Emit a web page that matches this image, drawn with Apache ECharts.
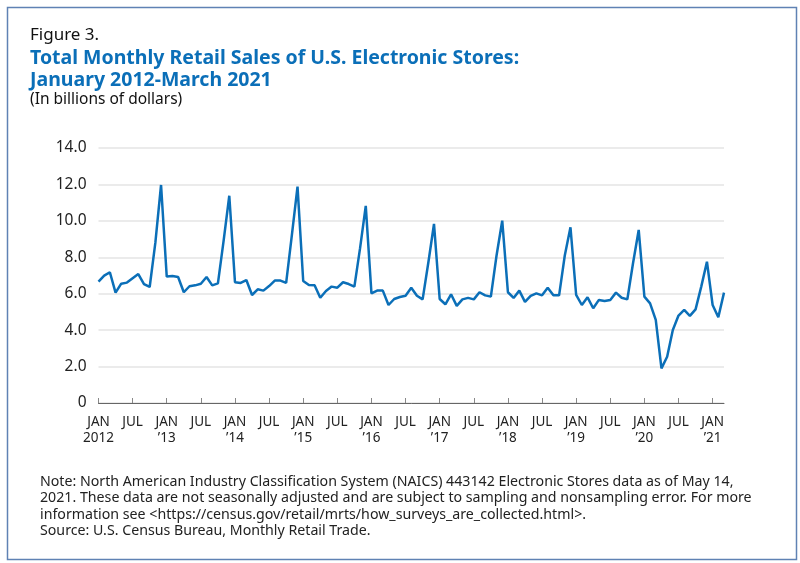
<!DOCTYPE html>
<html>
<head>
<meta charset="utf-8">
<title>Figure 3</title>
<script src="https://cdn.jsdelivr.net/npm/echarts@6/dist/echarts.min.js"></script>
<style>
  html, body { margin: 0; padding: 0; background: #fff; }
  #main { width: 800px; height: 563px; }
</style>
</head>
<body>
<div id="main"></div>
<script>
// monthly sales, billions of dollars
var monthNames = ['JAN','FEB','MAR','APR','MAY','JUN','JUL','AUG','SEP','OCT','NOV','DEC'];
var years = [2012, 2013, 2014, 2015, 2016, 2017, 2018, 2019, 2020, 2021];
var sales2012 = [6.66, 6.99, 7.18, 6.06, 6.55, 6.61, 6.85, 7.08, 6.53, 6.37, 8.8, 11.97];
var sales2013 = [6.94, 6.97, 6.92, 6.08, 6.41, 6.46, 6.55, 6.92, 6.46, 6.57, 8.9, 11.38];
var sales2014 = [6.63, 6.59, 6.75, 5.93, 6.24, 6.17, 6.42, 6.72, 6.72, 6.59, 9.2, 11.88];
var sales2015 = [6.70, 6.48, 6.46, 5.78, 6.15, 6.39, 6.33, 6.63, 6.53, 6.39, 8.5, 10.82];
var sales2016 = [6.02, 6.17, 6.17, 5.38, 5.71, 5.82, 5.89, 6.33, 5.89, 5.69, 7.7, 9.83];
var sales2017 = [5.71, 5.42, 5.97, 5.33, 5.69, 5.77, 5.69, 6.08, 5.91, 5.84, 8.1, 10.01];
var sales2018 = [6.08, 5.77, 6.17, 5.55, 5.88, 6.02, 5.91, 6.33, 5.91, 5.91, 8.1, 9.65];
var sales2019 = [5.93, 5.38, 5.80, 5.20, 5.66, 5.60, 5.66, 6.06, 5.78, 5.69, 7.67, 9.50];
var sales2020 = [5.84, 5.47, 4.56, 1.90, 2.54, 4.01, 4.80, 5.11, 4.78, 5.14, 6.39, 7.76];
var sales2021 = [5.38, 4.71, 6.06];

var salesByYear = [sales2012, sales2013, sales2014, sales2015, sales2016,
                   sales2017, sales2018, sales2019, sales2020, sales2021];

var categories = [];
var values = [];
for (var y = 0; y < years.length; y++) {
  for (var m = 0; m < salesByYear[y].length; m++) {
    categories.push(monthNames[m] + ' ' + years[y]);
    values.push(salesByYear[y][m]);
  }
}

var blue = '#0b6fb8';
var txtFont = 'Noto Sans';

var myChart = echarts.init(document.getElementById('main'));
myChart.setOption({
  animation: false,
  textStyle: { fontFamily: txtFont },
  grid: { left: 98.5, right: 76, top: 148, bottom: 160 },
  xAxis: {
    type: 'category',
    data: categories,
    boundaryGap: false,
    axisLine: { lineStyle: { color: '#666', width: 1 } },
    axisTick: {
      inside: true, length: 5,
      interval: function (i) { return i % 6 === 0; },
      lineStyle: { color: '#888' }
    },
    axisLabel: {
      interval: function (i) { return i % 6 === 0; },
      color: '#222', fontSize: 13.5, lineHeight: 16, margin: 11,
      formatter: function (v) {
        var p = v.split(' ');
        if (p[0] !== 'JAN') return p[0];
        var yr = p[1] === '2012' ? '2012' : '\u2019' + p[1].slice(2);
        return 'JAN\n' + yr;
      }
    }
  },
  yAxis: {
    type: 'value',
    min: 0, max: 14, interval: 2,
    axisLine: { show: false },
    axisTick: { show: false },
    axisLabel: {
      color: '#222', fontSize: 15.5, margin: 12,
      formatter: function (v) { return v === 0 ? '0' : v.toFixed(1); }
    },
    splitLine: { lineStyle: { color: '#e4e4e4', width: 1.5 } }
  },
  series: [{
    type: 'line',
    data: values,
    symbol: 'none',
    lineStyle: { color: blue, width: 2.5 },
    z: 3
  }],
  graphic: [
    {
      type: 'rect', left: 5, top: 5,
      shape: { width: 789, height: 552 },
      style: { fill: 'none', stroke: '#5f82b4', lineWidth: 1.5 }
    },
    {
      type: 'text', left: 30, top: 27,
      style: { text: 'Figure 3.', font: '17px "Noto Sans"', fill: '#111' }
    },
    {
      type: 'text', left: 30, top: 47,
      style: {
        text: 'Total Monthly Retail Sales of U.S. Electronic Stores:\nJanuary 2012-March 2021',
        font: 'bold 19.5px "Noto Sans"', fill: blue, lineHeight: 22.5
      }
    },
    {
      type: 'text', left: 30, top: 92,
      style: { text: '(In billions of dollars)', font: '15.5px "Noto Sans"', fill: '#111' }
    },
    {
      type: 'text', left: 40, top: 474,
      style: {
        text: 'Note: North American Industry Classification System (NAICS) 443142 Electronic Stores data as of May 14,\n' +
              '2021. These data are not seasonally adjusted and are subject to sampling and nonsampling error. For more\n' +
              'information see <https://census.gov/retail/mrts/how_surveys_are_collected.html>.\n' +
              'Source: U.S. Census Bureau, Monthly Retail Trade.',
        font: '14.2px "Noto Sans"', fill: '#222', lineHeight: 16.3
      }
    }
  ]
});
</script>
</body>
</html>
